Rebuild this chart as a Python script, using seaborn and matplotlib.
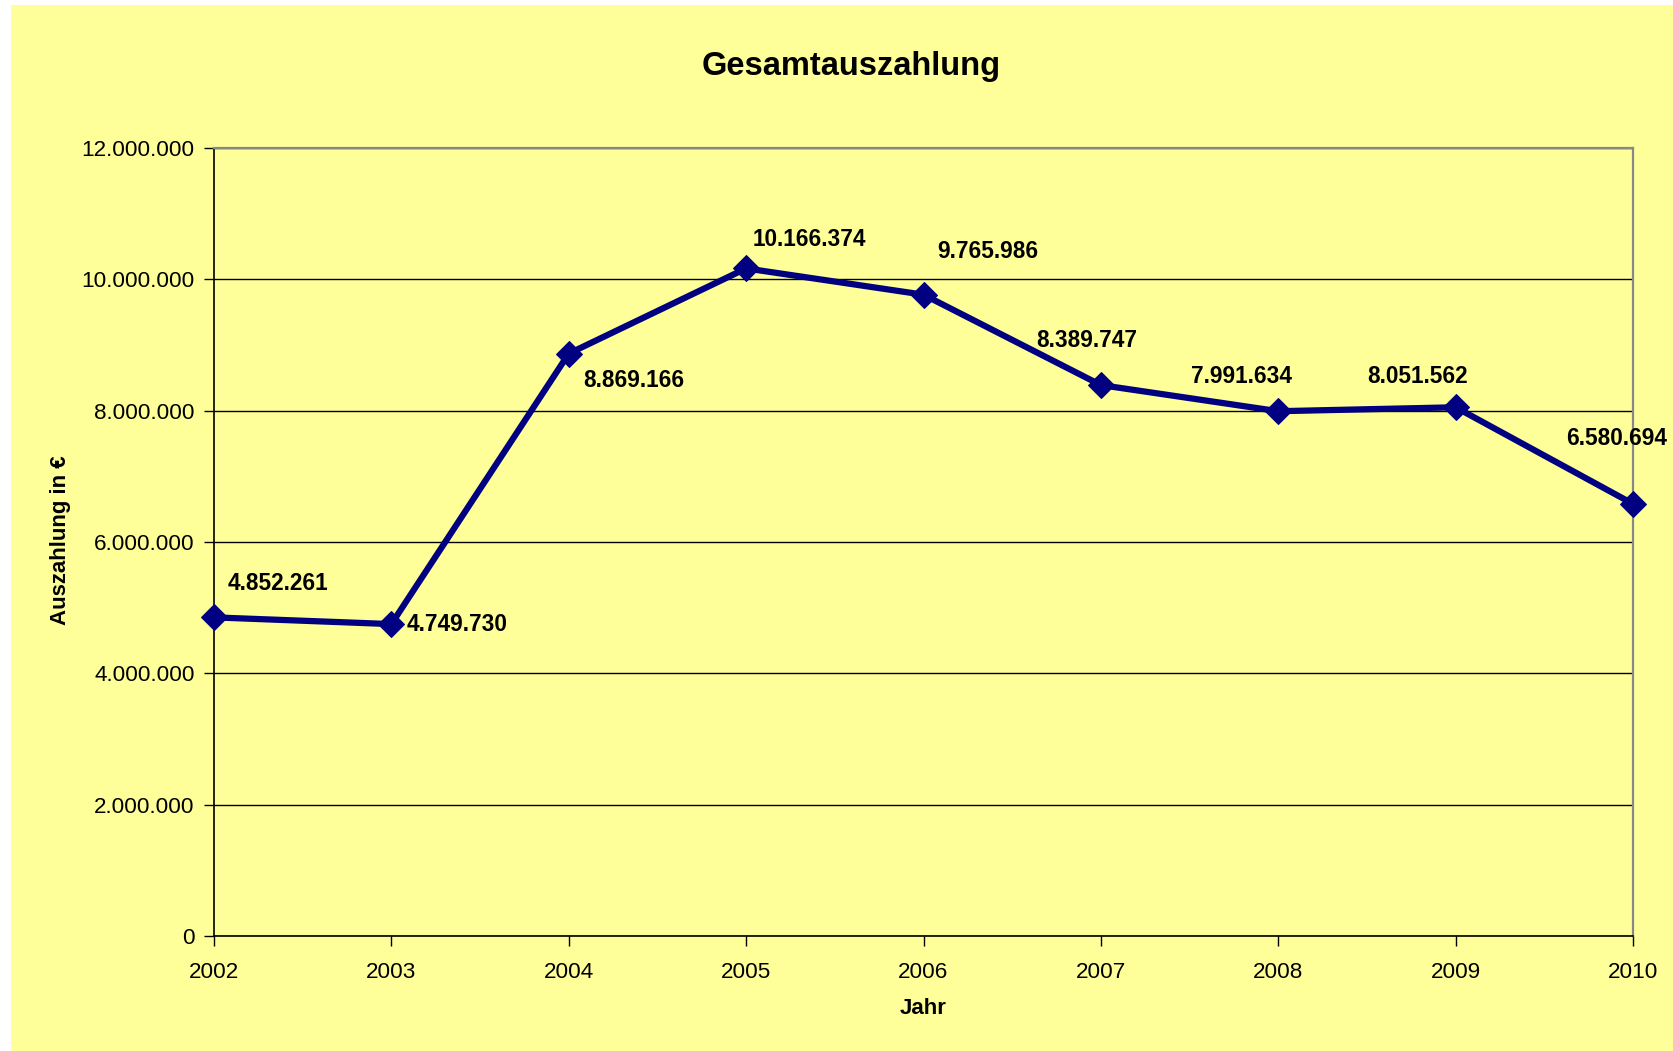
import matplotlib
matplotlib.use('Agg')
import matplotlib.pyplot as plt
import seaborn as sns
import pandas as pd
from matplotlib.patches import Rectangle
from matplotlib.ticker import FuncFormatter

# Data
years = [2002, 2003, 2004, 2005, 2006, 2007, 2008, 2009, 2010]
payout = [4852261, 4749730, 8869166, 10166374, 9765986, 8389747, 7991634, 8051562, 6580694]
y_ticks = [0, 2000000, 4000000, 6000000, 8000000, 10000000, 12000000]

# label offsets in pixels (layout only)
label_offsets = [(64, 34), (66, 0), (65, -27), (63, 29), (64, 43),
                 (-14, 45), (-37, 35), (-38, 31), (-16, 65)]

df = pd.DataFrame({'Jahr': years, 'Auszahlung': payout})

sns.set_style('white')
plt.rcParams['font.family'] = ['Liberation Sans', 'DejaVu Sans']
plt.rcParams['text.color'] = 'black'
plt.rcParams['axes.labelcolor'] = 'black'
plt.rcParams['xtick.color'] = 'black'
plt.rcParams['ytick.color'] = 'black'

fig = plt.figure(figsize=(16.74, 10.51), dpi=100)
fig.patch.set_facecolor('white')
# yellow chart area with thin white border on left/top
fig.patches.append(Rectangle((11 / 1674, 0), 1, (1051 - 5) / 1051, transform=fig.transFigure,
                             facecolor='#FFFF99', edgecolor='none', zorder=-10))

ax = fig.add_axes([214 / 1674, 1 - 936 / 1051, (1633 - 214) / 1674, (936 - 148) / 1051])
ax.set_facecolor('#FFFF99')

sns.lineplot(data=df, x='Jahr', y='Auszahlung', ax=ax, color='#000080', linewidth=4.5,
             marker='D', markersize=13, markeredgecolor='#000080')
for ln in ax.lines:
    ln.set_clip_on(False)
    ln.set_zorder(5)

for yr, val, off in zip(years, payout, label_offsets):
    ax.annotate(f"{val:,}".replace(",", "."), (yr, val), xytext=off, textcoords='offset pixels',
                ha='center', va='center', fontsize=16.3, fontweight='bold', color='black', zorder=6)

ax.set_xlim(2002, 2010)
ax.set_ylim(0, 12000000)
ax.set_xticks(years)
ax.set_yticks(y_ticks)
ax.yaxis.set_major_formatter(FuncFormatter(lambda v, p: f"{int(v):,}".replace(",", ".")))
ax.grid(axis='y', color='black', linewidth=1)
ax.set_axisbelow(True)

for side in ['left', 'bottom']:
    ax.spines[side].set_color('black')
    ax.spines[side].set_linewidth(1.2)
for side in ['top', 'right']:
    ax.spines[side].set_color('#888888')
    ax.spines[side].set_linewidth(1.6)

ax.tick_params(axis='both', direction='out', length=7, width=1, color='black', labelsize=16.2,
               left=True, bottom=True, labelcolor='black')
ax.tick_params(axis='x', pad=12)
ax.tick_params(axis='y', pad=7)

ax.set_xlabel('Jahr', fontsize=16, fontweight='bold', va='center', color='black')
ax.xaxis.set_label_coords(0.5, -0.0914)
ax.set_ylabel('Auszahlung in €', fontsize=16, fontweight='bold', va='center', color='black')
ax.yaxis.set_label_coords(-0.1085, 0.5025)

fig.text(851 / 1674, 1 - 66 / 1051, 'Gesamtauszahlung', ha='center', va='center',
         fontsize=23.5, fontweight='bold', color='black')

fig.savefig('out.png', dpi=100)
